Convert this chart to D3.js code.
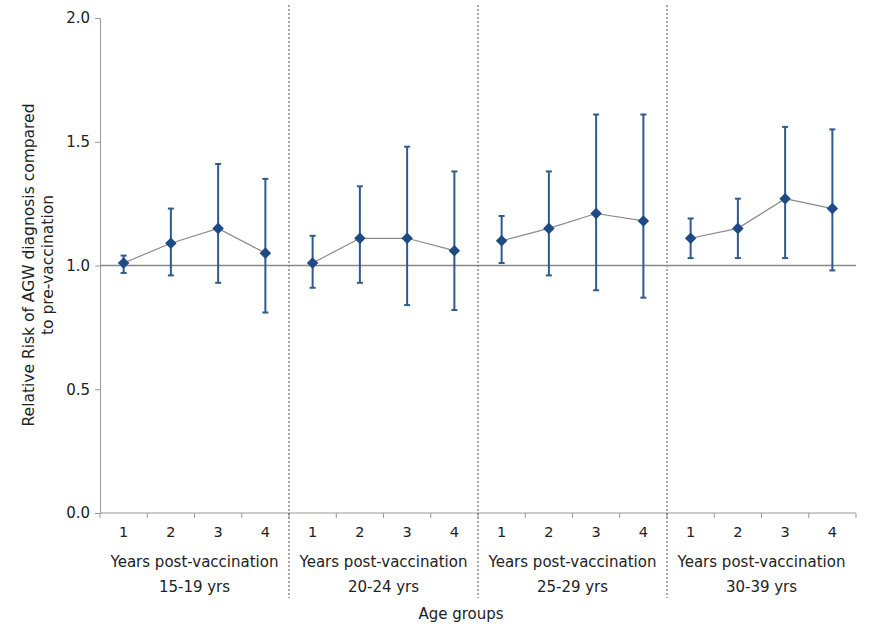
<!DOCTYPE html>
<html>
<head>
<meta charset="utf-8">
<script src="https://cdn.jsdelivr.net/npm/d3@7"></script>
<style>
    body { margin: 0; background: #fff; }
    text { font-family: "DejaVu Sans", sans-serif; fill: #222; }
</style>
</head>
<body>
<svg id="chart"></svg>
<script>
const width = 876;
const height = 626;

const ageGroups = ["15-19 yrs", "20-24 yrs", "25-29 yrs", "30-39 yrs"];
const years = ["1", "2", "3", "4"];
const rr    = [1.01, 1.09, 1.15, 1.05,  1.01, 1.11, 1.11, 1.06,  1.10, 1.15, 1.21, 1.18,  1.11, 1.15, 1.27, 1.23];
const lower = [0.97, 0.96, 0.93, 0.81,  0.91, 0.93, 0.84, 0.82,  1.01, 0.96, 0.90, 0.87,  1.03, 1.03, 1.03, 0.98];
const upper = [1.04, 1.23, 1.41, 1.35,  1.12, 1.32, 1.48, 1.38,  1.20, 1.38, 1.61, 1.61,  1.19, 1.27, 1.56, 1.55];
const yTicks = [0, 0.5, 1.0, 1.5, 2.0];

const data = rr.map((v, i) => ({
    group: ageGroups[Math.floor(i / years.length)],
    year: years[i % years.length],
    key: i,
    rr: v,
    lo: lower[i],
    hi: upper[i]
}));

const svg = d3.select("#chart")
    .attr("width", width)
    .attr("height", height);

const plotLeft = 100, plotRight = 856, plotTop = 18, plotBottom = 513;

const x = d3.scaleBand()
    .domain(data.map(d => d.key))
    .range([plotLeft, plotRight]);

const gx = d3.scaleBand()
    .domain(ageGroups)
    .range([plotLeft, plotRight]);

const y = d3.scaleLinear()
    .domain([0, 2])
    .range([plotBottom, plotTop]);

// y axis
const yAxis = svg.append("g")
    .attr("transform", `translate(${plotLeft},0)`)
    .call(d3.axisLeft(y).tickValues(yTicks).tickFormat(d3.format(".1f")).tickSize(5).tickPadding(5));
yAxis.select(".domain").attr("stroke", "#999");
yAxis.selectAll(".tick line").attr("stroke", "#999");
yAxis.selectAll(".tick text").style("font-size", "15px").attr("fill", "#222");

// x axis: ticks at band boundaries
const xAxisG = svg.append("g");
xAxisG.append("line")
    .attr("x1", plotLeft).attr("x2", plotRight)
    .attr("y1", plotBottom).attr("y2", plotBottom)
    .attr("stroke", "#999");
xAxisG.selectAll(".xtick")
    .data(d3.range(data.length + 1))
    .join("line")
    .attr("class", "xtick")
    .attr("x1", i => plotLeft + i * x.step())
    .attr("x2", i => plotLeft + i * x.step())
    .attr("y1", plotBottom).attr("y2", plotBottom + 5)
    .attr("stroke", "#999");
xAxisG.selectAll(".xlabel")
    .data(data)
    .join("text")
    .attr("class", "xlabel")
    .attr("x", d => x(d.key) + x.bandwidth() / 2)
    .attr("y", 537)
    .attr("text-anchor", "middle")
    .style("font-size", "14.5px")
    .text(d => d.year);

// group labels
xAxisG.selectAll(".glabel")
    .data(ageGroups)
    .join("text")
    .attr("class", "glabel")
    .attr("x", d => gx(d) + gx.bandwidth() / 2)
    .attr("y", 567)
    .attr("text-anchor", "middle")
    .style("font-size", "15px")
    .text("Years post-vaccination");
xAxisG.selectAll(".gname")
    .data(ageGroups)
    .join("text")
    .attr("class", "gname")
    .attr("x", d => gx(d) + gx.bandwidth() / 2)
    .attr("y", 592)
    .attr("text-anchor", "middle")
    .style("font-size", "15px")
    .text(d => d);

// dashed separators
svg.selectAll(".sep")
    .data(ageGroups.slice(1))
    .join("line")
    .attr("class", "sep")
    .attr("x1", d => gx(d)).attr("x2", d => gx(d))
    .attr("y1", 5).attr("y2", 598)
    .attr("stroke", "#555")
    .attr("stroke-width", 1)
    .attr("stroke-dasharray", "2,2");

// reference line at 1.0
svg.append("line")
    .attr("x1", plotLeft).attr("x2", plotRight)
    .attr("y1", y(1)).attr("y2", y(1))
    .attr("stroke", "#888")
    .attr("stroke-width", 1.5);

// connecting lines per group
const line = d3.line()
    .x(d => x(d.key) + x.bandwidth() / 2)
    .y(d => y(d.rr));
svg.selectAll(".conn")
    .data(d3.groups(data, d => d.group))
    .join("path")
    .attr("class", "conn")
    .attr("d", d => line(d[1]))
    .attr("fill", "none")
    .attr("stroke", "#8a8a8a")
    .attr("stroke-width", 1.2);

// error bars
const eb = svg.selectAll(".eb")
    .data(data)
    .join("g")
    .attr("class", "eb")
    .attr("transform", d => `translate(${x(d.key) + x.bandwidth() / 2},0)`);
eb.append("line")
    .attr("y1", d => y(d.lo)).attr("y2", d => y(d.hi))
    .attr("stroke", "#2f5b8c").attr("stroke-width", 2);
eb.append("line")
    .attr("x1", -3).attr("x2", 3)
    .attr("y1", d => y(d.lo)).attr("y2", d => y(d.lo))
    .attr("stroke", "#2f5b8c").attr("stroke-width", 2);
eb.append("line")
    .attr("x1", -3).attr("x2", 3)
    .attr("y1", d => y(d.hi)).attr("y2", d => y(d.hi))
    .attr("stroke", "#2f5b8c").attr("stroke-width", 2);

// markers
svg.selectAll(".pt")
    .data(data)
    .join("path")
    .attr("class", "pt")
    .attr("d", d3.symbol().type(d3.symbolDiamond2).size(85))
    .attr("transform", d => `translate(${x(d.key) + x.bandwidth() / 2},${y(d.rr)})`)
    .attr("fill", "#1f4a86");

// axis titles
svg.append("text")
    .attr("transform", "translate(34,265) rotate(-90)")
    .attr("text-anchor", "middle")
    .style("font-size", "15.5px")
    .text("Relative Risk of AGW diagnosis compared");
svg.append("text")
    .attr("transform", "translate(53,265) rotate(-90)")
    .attr("text-anchor", "middle")
    .style("font-size", "15.5px")
    .text("to pre-vaccination");
svg.append("text")
    .attr("x", 461)
    .attr("y", 619)
    .attr("text-anchor", "middle")
    .style("font-size", "15px")
    .text("Age groups");
</script>
</body>
</html>
